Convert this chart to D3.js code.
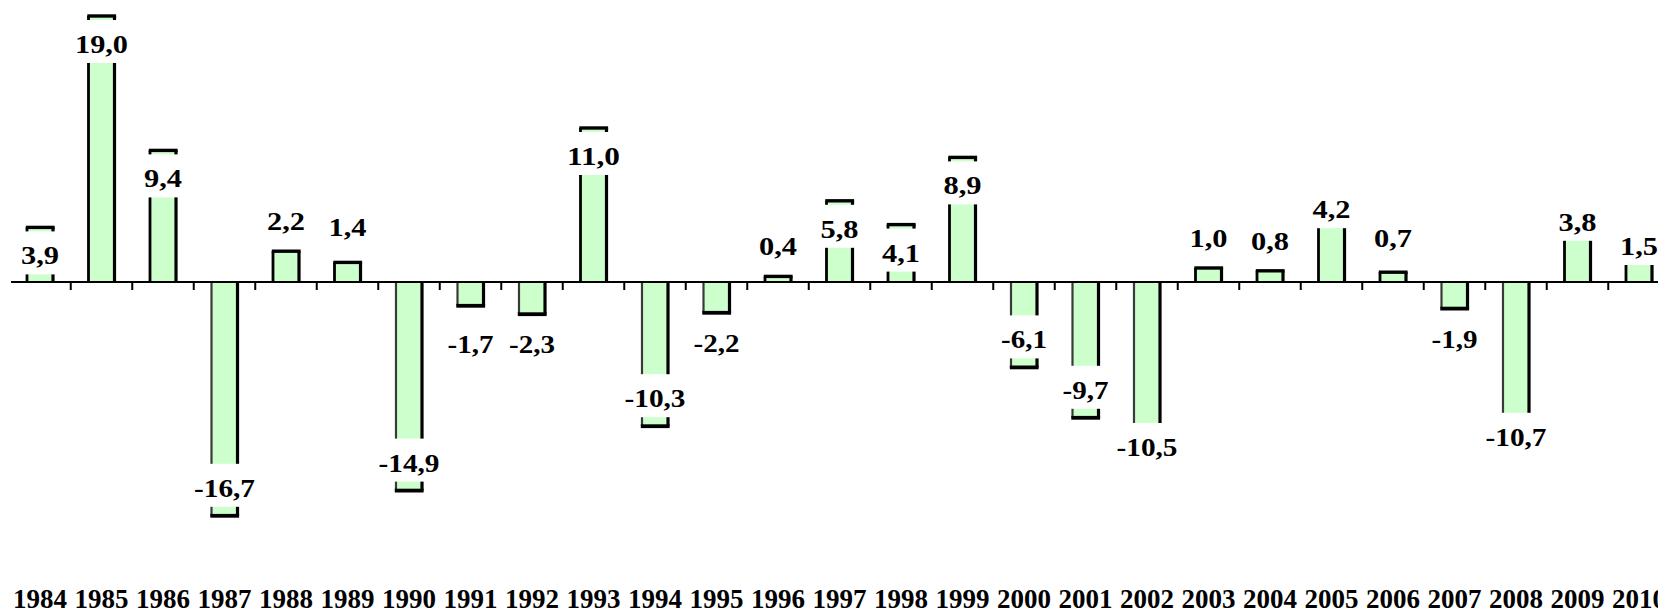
<!DOCTYPE html>
<html>
<head>
<meta charset="utf-8">
<script src="https://cdn.jsdelivr.net/npm/d3@7/dist/d3.min.js"></script>
<style>
  html, body { margin: 0; padding: 0; background: #fff; overflow: hidden; }
  svg { display: block; }
  text { font-family: "Liberation Serif", "Times New Roman", Times, serif; font-weight: bold; }
</style>
</head>
<body>
<svg id="chart" width="1658" height="615"></svg>
<script>
// Annual change, % (1984–2010)
const years = ["1984","1985","1986","1987","1988","1989","1990","1991","1992","1993",
               "1994","1995","1996","1997","1998","1999","2000","2001","2002","2003",
               "2004","2005","2006","2007","2008","2009","2010"];
const values = [3.9, 19.0, 9.4, -16.7, 2.2, 1.4, -14.9, -1.7, -2.3, 11.0,
                -10.3, -2.2, 0.4, 5.8, 4.1, 8.9, -6.1, -9.7, -10.5, 1.0,
                0.8, 4.2, 0.7, -1.9, -10.7, 3.8, 1.5];

const data = years.map((year, i) => ({ year, value: values[i] }));

// ---- layout ----
const W = 1658, H = 615;
const step = 61.5, x0 = 9.25;
const zeroY = 282, pxPerUnit = 14;

// labels drawn inside the bar end (the rest sit beyond it)
const labelInside = new Set(["1984","1985","1986","1987","1990","1993","1994",
                             "1997","1998","1999","2000","2001"]);
// vertical nudges (px) for labels placed beyond the bar end
const labelNudge = { "1989": -5, "1991": 8, "2002": -12, "2005": 16,
                     "2006": -4, "2008": -25, "2009": 23, "2010": 15 };

const svg = d3.select("#chart");

const x = d3.scaleBand()
  .domain(years)
  .range([x0, x0 + step * years.length])
  .paddingInner(0).paddingOuter(0);

const y = d3.scaleLinear()
  .domain([-20, 20])
  .range([zeroY + 20 * pxPerUnit, zeroY - 20 * pxPerUnit]);

const barW = x.bandwidth() * 0.423;
const cx = d => x(d.year) + x.bandwidth() / 2;

const fmt = d3.formatLocale({ decimal: ",", thousands: " ", grouping: [3],
                              currency: ["", ""], minus: "-" }).format(".1f");

// ---- bars ----
const bars = svg.append("g").attr("class", "bars");

bars.selectAll("rect")
  .data(data)
  .join("rect")
  .attr("x", d => cx(d) - barW / 2)
  .attr("width", barW)
  .attr("y", d => Math.min(y(d.value), y(0)))
  .attr("height", d => Math.abs(y(d.value) - y(0)))
  .attr("fill", "#ccffcc");

// bar outlines: sides and far end, darker on the right / lower edges
const edges = bars.append("g").attr("class", "edges");
data.forEach(d => {
  const l = cx(d) - barW / 2, r = cx(d) + barW / 2;
  const ye = y(d.value), y0 = y(0);
  const neg = d.value < 0;
  edges.append("line")
    .attr("x1", l).attr("x2", l).attr("y1", y0).attr("y2", ye)
    .attr("stroke", neg ? "#3a3a3a" : "#000")
    .attr("stroke-width", neg ? 2.2 : 2.8);
  edges.append("line")
    .attr("x1", r).attr("x2", r).attr("y1", y0).attr("y2", ye)
    .attr("stroke", "#000").attr("stroke-width", 3.2);
  edges.append("line")
    .attr("x1", l - 1.2).attr("x2", r + 1.6).attr("y1", ye).attr("y2", ye)
    .attr("stroke", "#000").attr("stroke-width", neg ? 3.8 : 3.4);
});

// ---- category axis ----
const axis = svg.append("g").attr("class", "axis");
axis.append("line")
  .attr("x1", 11).attr("x2", W)
  .attr("y1", y(0)).attr("y2", y(0))
  .attr("stroke", "#000").attr("stroke-width", 2.2);

axis.selectAll("line.tick")
  .data(years.slice(1))
  .join("line")
  .attr("class", "tick")
  .attr("x1", d => x(d)).attr("x2", d => x(d))
  .attr("y1", y(0)).attr("y2", y(0) + 8)
  .attr("stroke", "#000").attr("stroke-width", 2);

axis.selectAll("text.year")
  .data(years)
  .join("text")
  .attr("class", "year")
  .attr("x", d => x(d) + x.bandwidth() / 2)
  .attr("y", 608)
  .attr("text-anchor", "middle")
  .attr("font-size", 28)
  .attr("textLength", 54)
  .attr("lengthAdjust", "spacingAndGlyphs")
  .attr("fill", "#000")
  .text(d => d);

// ---- value labels on white boxes ----
// label width: ~15px per digit, 8px for the comma and for a minus sign
const labelWidth = s => s.replace(/[^0-9]/g, "").length * 15 + 8 + (s[0] === "-" ? 8 : 0);

const labels = svg.append("g").attr("class", "labels");
data.forEach(d => {
  const v = y(d.value);
  const neg = d.value < 0;
  let c;
  if (labelInside.has(d.year)) c = neg ? v - 28 : v + 28;
  else c = (neg ? v + 30 : v - 30) + (labelNudge[d.year] || 0);
  const baseline = c + 9;
  const s = fmt(d.value);
  const w = labelWidth(s);

  const g = labels.append("g");
  g.append("rect")
    .attr("fill", "#fff")
    .attr("x", cx(d) - w / 2 - 5).attr("width", w + 10)
    .attr("y", baseline - 33).attr("height", 43);
  g.append("text")
    .attr("x", cx(d))
    .attr("y", baseline)
    .attr("text-anchor", "middle")
    .attr("font-size", 26)
    .attr("textLength", w)
    .attr("lengthAdjust", "spacingAndGlyphs")
    .attr("fill", "#000")
    .text(s);
});
</script>
</body>
</html>
